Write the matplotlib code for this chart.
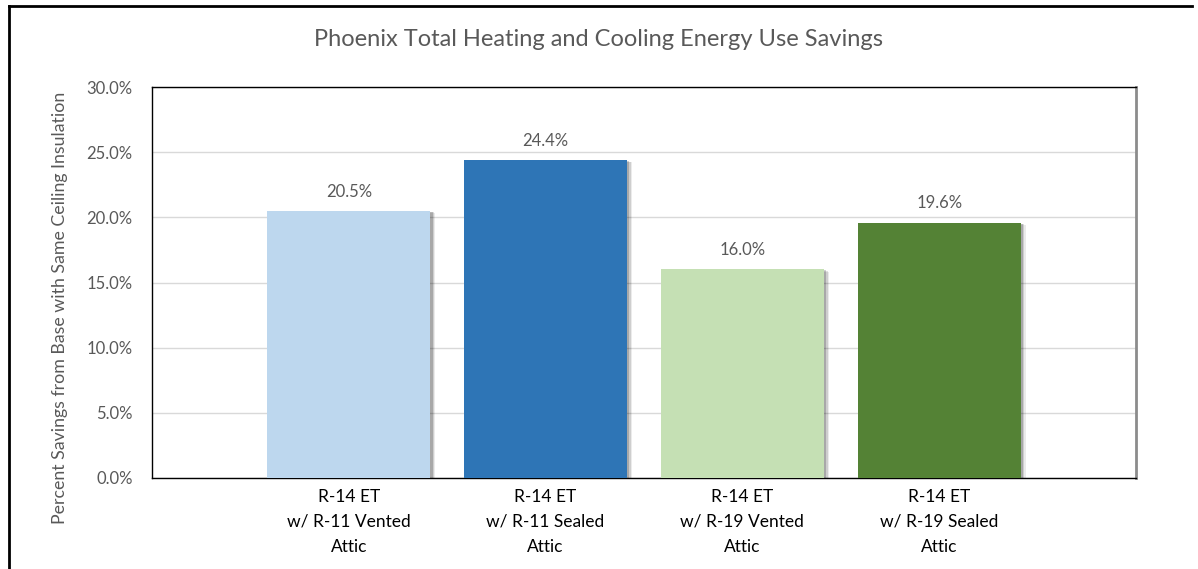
import matplotlib
matplotlib.use("Agg")
import matplotlib.pyplot as plt
import matplotlib.patheffects as pe
from matplotlib.lines import Line2D
from matplotlib.ticker import FuncFormatter, MultipleLocator

plt.rcParams["font.family"] = ["Lato", "DejaVu Sans"]

# data
categories = [
    "R-14 ET\nw/ R-11 Vented\nAttic",
    "R-14 ET\nw/ R-11 Sealed\nAttic",
    "R-14 ET\nw/ R-19 Vented\nAttic",
    "R-14 ET\nw/ R-19 Sealed\nAttic",
]
savings = [20.5, 24.4, 16.0, 19.6]
bar_colors = ["#BDD7EE", "#2E75B6", "#C5E0B4", "#548235"]

title = "Phoenix Total Heating and Cooling Energy Use Savings"
ylabel = "Percent Savings from Base with Same Ceiling Insulation"
text_gray = "#595959"

fig = plt.figure(figsize=(11.98, 5.69), dpi=100)
ax = fig.add_axes([152 / 1198, 1 - 478 / 569, (1136 - 152) / 1198, (478 - 87) / 569])

x = list(range(1, len(savings) + 1))
shadow = [
    pe.SimplePatchShadow(offset=(3.5, -1.8), shadow_rgbFace="black", alpha=0.08),
    pe.SimplePatchShadow(offset=(2.6, -1.2), shadow_rgbFace="black", alpha=0.12),
    pe.SimplePatchShadow(offset=(1.6, -0.7), shadow_rgbFace="black", alpha=0.18),
    pe.Normal(),
]
bars = ax.bar(x, savings, width=0.83, color=bar_colors, zorder=3)
for b in bars:
    b.set_path_effects(shadow)

for xi, v in zip(x, savings):
    ax.annotate(f"{v:.1f}%", (xi, v), xytext=(0, 8), textcoords="offset points",
                ha="center", va="bottom", fontsize=12, color=text_gray)

ax.set_xlim(0, 5)
ax.set_ylim(0, 30)
ax.yaxis.set_major_locator(MultipleLocator(5))
ax.yaxis.set_major_formatter(FuncFormatter(lambda v, p: f"{v:.1f}%"))
ax.set_xticks(x)
ax.set_xticklabels(categories, fontsize=12.5, color="black", linespacing=1.68)
ax.tick_params(axis="both", length=0)
ax.tick_params(axis="y", labelsize=12, labelcolor=text_gray, pad=14)
ax.tick_params(axis="x", pad=8)
ax.grid(axis="y", color="#D9D9D9", linewidth=1, zorder=0)
ax.set_axisbelow(True)

for side in ["top", "left", "bottom"]:
    ax.spines[side].set_color("black")
    ax.spines[side].set_linewidth(1)
ax.spines["right"].set_color("#8C8C8C")
ax.spines["right"].set_linewidth(2)

ax.set_ylabel(ylabel, fontsize=12.8, color=text_gray)
ax.yaxis.set_label_coords(-0.085, 0.435)

fig.text(0.5, 1 - 40 / 569, title, ha="center", va="center", fontsize=17, color=text_gray)

# outer frame (top and left edge)
fig.add_artist(Line2D([9 / 1198, 1192 / 1198], [1 - 6 / 569, 1 - 6 / 569],
                      transform=fig.transFigure, color="black", linewidth=2))
fig.add_artist(Line2D([9 / 1198, 9 / 1198], [1 - 6 / 569, 0],
                      transform=fig.transFigure, color="black", linewidth=2))

fig.savefig("out.png", dpi=100)
